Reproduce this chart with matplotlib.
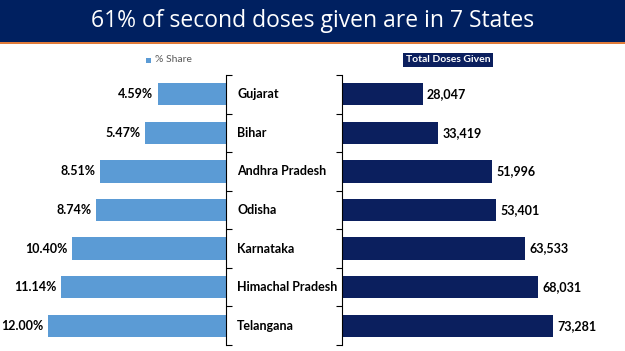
import matplotlib.pyplot as plt
import matplotlib.patches as mpatches

states = ['Gujarat', 'Bihar', 'Andhra Pradesh', 'Odisha', 'Karnataka',
          'Himachal Pradesh', 'Telangana']
share = [4.59, 5.47, 8.51, 8.74, 10.40, 11.14, 12.00]
doses = [28047, 33419, 51996, 53401, 63533, 68031, 73281]

W, H = 625, 351
light = '#5B9BD5'
navy = '#0B1F5E'
font = 'Lato'

fig = plt.figure(figsize=(W / 100, H / 100), dpi=100)
fig.patch.set_facecolor('white')

# title banner
fig.patches.append(mpatches.Rectangle((0, 1 - 42 / H), 1, 42 / H, transform=fig.transFigure,
                                      facecolor='#002060', edgecolor='none'))
fig.patches.append(mpatches.Rectangle((0, 1 - 44 / H), 1, 2 / H, transform=fig.transFigure,
                                      facecolor='#E07B39', edgecolor='none'))
fig.text(0.5, 1 - 21 / H, '61% of second doses given are in 7 States', color='white',
         fontsize=16.5, ha='center', va='center', family='Open Sans')

bottom = 1 - 345 / H
height = (345 - 75) / H
pos = list(range(len(states)))

# left panel: % share
axl = fig.add_axes([48 / W, bottom, (226 - 48) / W, height])
axl.barh(pos, share, height=0.58, color=light)
axl.set_xlim(12, 0)
axl.set_ylim(len(states) - 0.5, -0.5)
for s in ['top', 'left', 'bottom']:
    axl.spines[s].set_visible(False)
axl.spines['right'].set_color('black')
axl.spines['right'].set_linewidth(0.8)
axl.set_xticks([])
axl.yaxis.tick_right()
axl.set_yticks([p - 0.5 for p in pos] + [len(states) - 0.5])
axl.tick_params(axis='y', direction='out', length=4, labelright=False, width=0.8)
for p, v in zip(pos, share):
    axl.text(v + 0.3, p, f'{v:.2f}%', ha='right', va='center', fontsize=9,
             fontweight='bold', family=font, clip_on=False)

# state labels
for p, name in zip(pos, states):
    axl.text(-0.75, p, name, ha='left', va='center', fontsize=9, fontweight='bold',
             family=font, clip_on=False)

# right panel: total doses
axr = fig.add_axes([342 / W, bottom, (553 - 342) / W, height])
axr.barh(pos, doses, height=0.58, color=navy)
axr.set_xlim(0, 73281)
axr.set_ylim(len(states) - 0.5, -0.5)
for s in ['top', 'right', 'bottom']:
    axr.spines[s].set_visible(False)
axr.spines['left'].set_linewidth(0.8)
axr.set_xticks([])
axr.set_yticks([p - 0.5 for p in pos] + [len(states) - 0.5])
axr.tick_params(axis='y', direction='out', length=4, labelleft=False, width=0.8)
for p, v in zip(pos, doses):
    axr.text(v + 1500, p, f'{v:,}', ha='left', va='center', fontsize=9,
             fontweight='bold', family=font, clip_on=False)

# legends
fig.patches.append(mpatches.Rectangle((146 / W, 1 - 63 / H), 5 / W, 5 / H,
                                      transform=fig.transFigure, facecolor=light))
fig.text(155 / W, 1 - 60 / H, '% Share', color='#595959', fontsize=7.5,
         ha='left', va='center', family=font)
fig.text(448 / W, 1 - 60 / H, 'Total Doses Given', color='white', fontsize=7.5,
         fontweight='bold', ha='center', va='center', family=font,
         bbox=dict(boxstyle='square,pad=0.25', facecolor=navy, edgecolor='none'))

fig.savefig('out.png', dpi=100)
